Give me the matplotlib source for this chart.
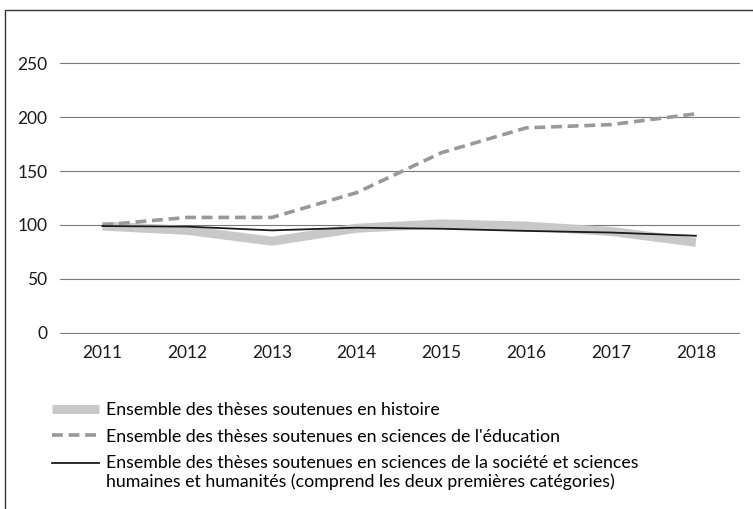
import matplotlib.pyplot as plt
from matplotlib.patches import Rectangle
from matplotlib.legend_handler import HandlerLine2D

plt.rcParams['font.family'] = ['Lato', 'DejaVu Sans']

years = [2011, 2012, 2013, 2014, 2015, 2016, 2017, 2018]
histoire = [99, 95, 85, 97, 101, 99, 94, 84]
education = [100, 107, 107, 130, 167, 190, 193, 203]
societe = [99, 98.5, 95, 97.5, 96.5, 94.5, 93, 90]

lab_hist = "Ensemble des thèses soutenues en histoire"
lab_edu = "Ensemble des thèses soutenues en sciences de l'éducation"
lab_soc = ("Ensemble des thèses soutenues en sciences de la société et sciences\n"
           "humaines et humanités (comprend les deux premières catégories)")


class RaisedLine(HandlerLine2D):
    # legend line aligned with the first line of a wrapped label
    def __init__(self, dy, **kw):
        super().__init__(**kw)
        self.dy = dy

    def create_artists(self, legend, orig_handle, xdescent, ydescent, width, height,
                       fontsize, trans):
        arts = super().create_artists(legend, orig_handle, xdescent, ydescent, width,
                                      height, fontsize, trans)
        for a in arts:
            a.set_ydata([y + self.dy for y in a.get_ydata()])
        return arts


fig = plt.figure(figsize=(7.53, 5.09), dpi=100)

# outer frame (only left and top edges visible)
fig.patches.append(Rectangle((5 / 753, -0.1), 1.1, 1 - 10 / 509 + 0.1,
                             transform=fig.transFigure, fill=False,
                             edgecolor='#333333', linewidth=1.0))

ax = fig.add_axes([60 / 753, 1 - 334 / 509, 680 / 753, 272 / 509])

h1, = ax.plot(years, histoire, color='#c8c8c8', linewidth=6.5, solid_capstyle='butt',
              label=lab_hist, zorder=2)
h2, = ax.plot(years, education, color='#999999', linewidth=2.6, dashes=(3, 1.6),
              label=lab_edu, zorder=3)
h3, = ax.plot(years, societe, color='#1a1a1a', linewidth=1.3, label=lab_soc, zorder=4)

ax.set_xlim(2010.5, 2018.52)
ax.set_ylim(-1, 251)
ax.set_yticks([0, 50, 100, 150, 200, 250])
ax.set_xticks(years)
ax.grid(axis='y', color='#7a7a7a', linewidth=0.8)
ax.set_axisbelow(True)
for s in ax.spines.values():
    s.set_visible(False)
ax.tick_params(length=0, labelsize=12.5, colors='#1a1a1a')
ax.tick_params(axis='y', pad=9)
ax.tick_params(axis='x', pad=8)

leg = fig.legend(handles=[h1, h2, h3], loc='upper left',
                 bbox_to_anchor=(52 / 753, 1 - 402 / 509),
                 frameon=False, fontsize=12.8, handlelength=2.65, handletextpad=0.4,
                 labelspacing=0.6, borderpad=0, borderaxespad=0,
                 handler_map={h3: RaisedLine(7.0)})
for t in leg.get_texts():
    t.set_linespacing(1.15)

plt.savefig('out.png', dpi=100)
